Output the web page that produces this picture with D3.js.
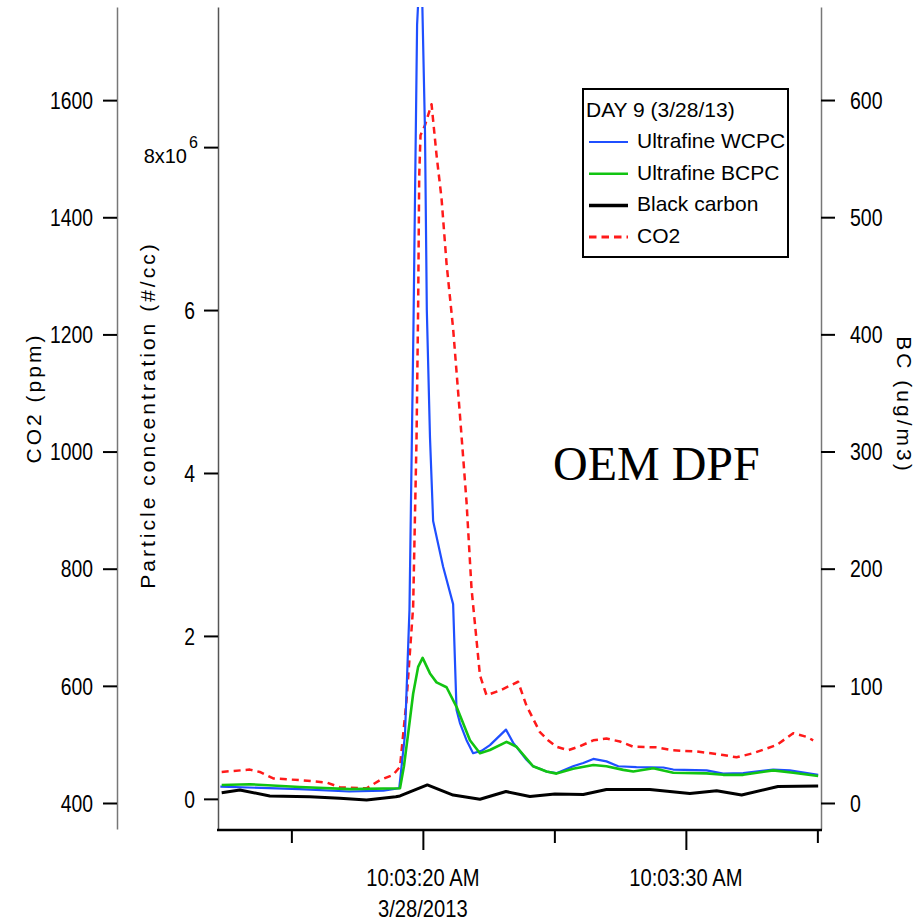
<!DOCTYPE html>
<html>
<head>
<meta charset="utf-8">
<script src="https://cdn.jsdelivr.net/npm/d3@7"></script>
<style>
body { margin: 0; background: #fff; }
text { font-family: "Liberation Sans", Arial, sans-serif; fill: #000; }
</style>
</head>
<body>
<div id="chart"></div>
<script>
// seconds after 10:03:00 on 3/28/2013
var wcpcSec = [12.3, 15.3, 17.2, 18.5, 19.1, 19.32, 19.49, 19.64, 19.78, 19.93, 20.08, 20.15, 20.27, 20.39, 20.77, 21.15, 21.28, 21.41, 21.66, 21.91, 22.23, 22.55, 23.16, 23.43, 23.94, 24.19, 24.45, 24.7, 25.08, 25.71, 26.1, 26.48, 26.98, 27.43, 28.12, 29.14, 29.52, 30.79, 31.42, 32.18, 33.32, 33.95, 35.03];
var wcpcVal = [0.15, 0.12, 0.09, 0.10, 0.13, 0.79, 2.32, 5.75, 9.5, 10.5, 8.2, 6.0, 4.44, 3.41, 2.85, 2.39, 1.09, 0.93, 0.72, 0.56, 0.59, 0.66, 0.85, 0.69, 0.48, 0.40, 0.37, 0.335, 0.315, 0.40, 0.44, 0.49, 0.46, 0.40, 0.39, 0.385, 0.36, 0.35, 0.31, 0.315, 0.36, 0.35, 0.295];

var bcpcSec = [12.35, 13.42, 15.32, 17.22, 19.13, 19.28, 19.44, 19.63, 19.82, 19.99, 20.27, 20.52, 20.9, 21.28, 21.79, 22.17, 22.55, 23.18, 23.56, 24.19, 24.7, 25.08, 25.71, 26.48, 26.98, 27.62, 28.0, 28.76, 29.52, 30.79, 31.42, 32.18, 33.32, 34.08, 35.03];
var bcpcVal = [0.17, 0.18, 0.145, 0.12, 0.13, 0.40, 0.80, 1.29, 1.62, 1.73, 1.54, 1.43, 1.37, 1.13, 0.72, 0.56, 0.60, 0.70, 0.64, 0.40, 0.335, 0.31, 0.37, 0.415, 0.40, 0.356, 0.335, 0.375, 0.32, 0.313, 0.295, 0.295, 0.35, 0.32, 0.28];

var bcSec = [12.35, 13.04, 14.18, 15.7, 16.84, 17.86, 18.97, 19.13, 20.17, 21.15, 22.17, 23.16, 24.07, 25.02, 26.1, 26.98, 28.63, 30.15, 31.17, 32.12, 33.5, 35.03];
var bcVal = [8.8, 11.1, 6.0, 5.4, 4.0, 2.6, 5.4, 6.0, 15.4, 6.8, 3.2, 9.8, 5.5, 7.7, 7.3, 11.5, 11.5, 8.1, 10.5, 6.8, 14.1, 14.5];

var co2Sec = [12.35, 13.42, 13.8, 14.31, 15.32, 16.34, 16.84, 17.86, 18.37, 18.87, 19.13, 19.38, 19.63, 19.76, 19.82, 19.86, 19.91, 20.08, 20.33, 20.52, 20.71, 20.9, 21.15, 21.41, 21.66, 21.85, 22.17, 22.42, 22.93, 23.62, 23.94, 24.45, 24.76, 25.08, 25.52, 25.97, 26.48, 26.98, 27.49, 28.0, 28.89, 29.52, 30.41, 31.42, 31.93, 32.56, 33.45, 34.08, 34.59, 34.84];
var co2Val = [453, 457, 453, 442, 439, 435, 427, 425, 439, 448, 462, 576, 735, 1025, 1247, 1469, 1540, 1557, 1593, 1506, 1432, 1321, 1210, 1062, 914, 766, 618, 584, 592, 607, 566, 521, 507, 496, 490, 497, 507, 510, 505, 496, 495, 490, 488, 482, 478, 485, 499, 519, 513, 507];

var co2Ticks = [400, 600, 800, 1000, 1200, 1400, 1600];
var particleTicks = [0, 2, 4, 6, 8];
var bcTicks = [0, 100, 200, 300, 400, 500, 600];
var timeTicks = [15, 20, 25, 30, 35];
var timeLabels = [20, 30];

var legendNames = ["Ultrafine WCPC", "Ultrafine BCPC", "Black carbon", "CO2"];

var svgWidth = 924;
var svgHeight = 922;
var plot = { left: 218, right: 821, top: 7, bottom: 830 };

var T0 = new Date(2013, 2, 28, 10, 3, 0).getTime();
function at(s) { return new Date(T0 + s * 1000); }

var svg = d3.select("#chart")
    .append("svg")
    .attr("width", svgWidth)
    .attr("height", svgHeight)
    .style("background", "#fff");

var x = d3.scaleTime()
    .domain([at(12.21), at(35.1)])
    .range([plot.left, plot.right - 1]);
var yP = d3.scaleLinear().domain([-0.37, 9.72]).range([829, 7]);
var yC = d3.scaleLinear().domain([355.6, 1759]).range([829, 7]);
var yB = d3.scaleLinear().domain([-22.2, 679.4]).range([829, 7]);

function squeeze(sel, k) {
    sel.each(function() {
        var w = this.getComputedTextLength();
        d3.select(this).attr("textLength", w * k).attr("lengthAdjust", "spacingAndGlyphs");
    });
}

function styleAxis(g, domainColor) {
    g.select(".domain").attr("stroke", domainColor).attr("stroke-width", 1.5);
    g.selectAll(".tick line").attr("stroke", "#000").attr("stroke-width", 2);
    g.selectAll(".tick text")
        .style("font-size", "23px")
        .style("font-family", "'Liberation Sans', Arial, sans-serif");
}

// CO2 axis (outer left)
var co2Axis = svg.append("g")
    .attr("transform", "translate(117,0)")
    .call(d3.axisLeft(yC).tickValues(co2Ticks).tickSize(14).tickSizeOuter(0).tickPadding(10)
        .tickFormat(d3.format("d")));
styleAxis(co2Axis, "#777");
co2Axis.selectAll(".tick text").attr("dy", "0.36em");
squeeze(co2Axis.selectAll(".tick text"), 0.84);

// particle axis (inner left), top label written as 8x10^6
var pAxis = svg.append("g")
    .attr("transform", "translate(" + plot.left + ",0)")
    .call(d3.axisLeft(yP).tickValues(particleTicks).tickSize(14).tickSizeOuter(0).tickPadding(9)
        .tickFormat(function(d) { return d === 8 ? "8x10" : d; }));
styleAxis(pAxis, "#555");
pAxis.selectAll(".tick text").attr("dy", "0.36em");
squeeze(pAxis.selectAll(".tick text").filter(function(d) { return d !== 8; }), 0.84);
pAxis.selectAll(".tick text").filter(function(d) { return d === 8; })
    .attr("x", -31)
    .attr("y", 15)
    .attr("dy", null)
    .style("font-size", "20px");
pAxis.selectAll(".tick").filter(function(d) { return d === 8; })
    .append("text")
    .attr("x", -29)
    .attr("y", 0)
    .attr("text-anchor", "start")
    .attr("fill", "#000")
    .style("font-size", "16px")
    .text("6");

// BC axis (right)
var bAxis = svg.append("g")
    .attr("transform", "translate(" + plot.right + ",0)")
    .call(d3.axisRight(yB).tickValues(bcTicks).tickSize(14).tickSizeOuter(0).tickPadding(15));
styleAxis(bAxis, "#777");
bAxis.selectAll(".tick text").attr("dy", "0.36em");
squeeze(bAxis.selectAll(".tick text"), 0.85);

// time axis
var tAxis = svg.append("g")
    .attr("transform", "translate(0," + plot.bottom + ")")
    .call(d3.axisBottom(x).tickValues(timeTicks.map(at)).tickSize(13).tickSizeOuter(0).tickFormat(""));
tAxis.select(".domain").attr("stroke", "#000").attr("stroke-width", 2.5)
    .attr("d", "M" + (plot.left - 1) + ",0H" + (plot.right + 1));
tAxis.selectAll(".tick line").attr("stroke", "#000").attr("stroke-width", 2)
    .attr("y2", function(d) { return timeLabels.indexOf(d.getSeconds()) >= 0 ? 20 : 13; });

var fmtTime = d3.timeFormat("%-I:%M:%S %p");
var fmtDate = d3.timeFormat("%-m/%-d/%Y");
var timeText = svg.append("g").selectAll("text")
    .data(timeLabels)
    .enter()
    .append("text")
    .attr("x", function(d) { return x(at(d)); })
    .attr("y", 886)
    .attr("text-anchor", "middle")
    .style("font-size", "24px")
    .text(function(d) { return fmtTime(at(d)); });
squeeze(timeText, 0.84);
var dateText = svg.append("text")
    .attr("x", x(at(timeLabels[0])))
    .attr("y", 917)
    .attr("text-anchor", "middle")
    .style("font-size", "24px")
    .text(fmtDate(at(timeLabels[0])));
squeeze(dateText, 0.84);

// axis titles
svg.append("text")
    .attr("transform", "translate(41,398) rotate(-90)")
    .attr("text-anchor", "middle")
    .style("font-size", "21px")
    .style("letter-spacing", "3px")
    .text("CO2 (ppm)");
svg.append("text")
    .attr("transform", "translate(155,415) rotate(-90)")
    .attr("text-anchor", "middle")
    .style("font-size", "21px")
    .style("letter-spacing", "3px")
    .text("Particle concentration (#/cc)");
svg.append("text")
    .attr("transform", "translate(897,405) rotate(90)")
    .attr("text-anchor", "middle")
    .style("font-size", "21px")
    .style("letter-spacing", "3px")
    .text("BC (ug/m3)");

// data lines
svg.append("clipPath").attr("id", "plotclip")
    .append("rect")
    .attr("x", plot.left).attr("y", plot.top)
    .attr("width", plot.right - plot.left).attr("height", plot.bottom - plot.top);

var lines = svg.append("g").attr("clip-path", "url(#plotclip)");

function series(sec, val) {
    return sec.map(function(s, i) { return { t: at(s), v: val[i] }; });
}
function drawLine(data, yScale, color, width, dash) {
    var line = d3.line()
        .x(function(d) { return x(d.t); })
        .y(function(d) { return yScale(d.v); });
    lines.append("path")
        .datum(data)
        .attr("d", line)
        .attr("fill", "none")
        .attr("stroke", color)
        .attr("stroke-width", width)
        .attr("stroke-linejoin", "round")
        .attr("stroke-dasharray", dash || null);
}

drawLine(series(co2Sec, co2Val), yC, "#ff1a1a", 2.5, "7,5");
drawLine(series(wcpcSec, wcpcVal), yP, "#1f4fff", 2.2);
drawLine(series(bcpcSec, bcpcVal), yP, "#12c412", 2.6);
drawLine(series(bcSec, bcVal), yB, "#000", 3);

// legend
var legend = svg.append("g");
legend.append("rect")
    .attr("x", 583).attr("y", 89)
    .attr("width", 205).attr("height", 168)
    .attr("fill", "#fff")
    .attr("stroke", "#000")
    .attr("stroke-width", 2);
legend.append("text")
    .attr("x", 586).attr("y", 117)
    .style("font-size", "21px")
    .text("DAY 9 (3/28/13)");
var legendColors = ["#1f4fff", "#12c412", "#000", "#ff1a1a"];
var legendWidths = [2.2, 2.6, 3.5, 3];
legendNames.forEach(function(name, i) {
    var base = 148 + i * 31.7;
    legend.append("line")
        .attr("x1", 589).attr("x2", 628)
        .attr("y1", base - 6).attr("y2", base - 6)
        .attr("stroke", legendColors[i])
        .attr("stroke-width", legendWidths[i])
        .attr("stroke-dasharray", name === "CO2" ? "7.5,5" : null);
    legend.append("text")
        .attr("x", 637).attr("y", base)
        .style("font-size", "21px")
        .text(name);
});

svg.append("text")
    .attr("x", 553).attr("y", 480)
    .style("font-family", "'Liberation Serif', 'Times New Roman', serif")
    .style("font-size", "48px")
    .text("OEM DPF");
</script>
</body>
</html>
